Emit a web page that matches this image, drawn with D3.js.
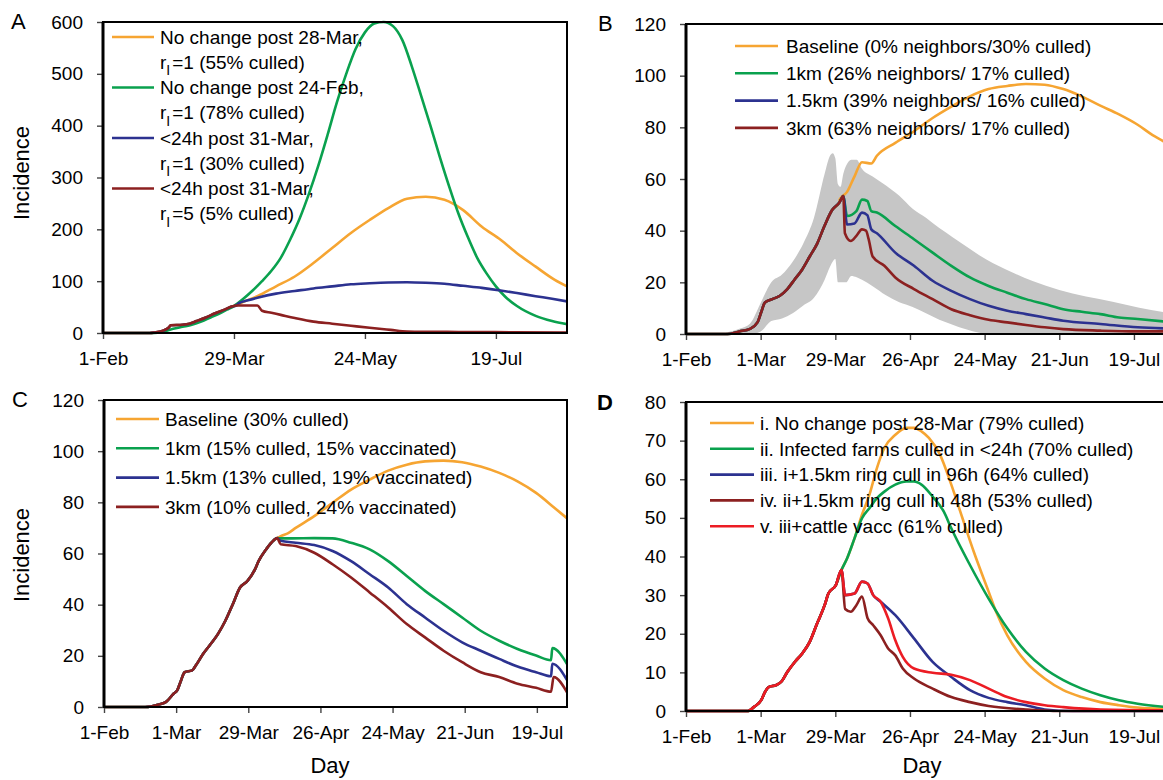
<!DOCTYPE html>
<html>
<head>
<meta charset="utf-8">
<script src="https://cdn.jsdelivr.net/npm/d3@7"></script>
<style>
  body { margin: 0; background: #fff; }
  svg { display: block; font-family: "Liberation Sans", Arial, sans-serif; }
</style>
</head>
<body>
<svg id="fig" width="1163" height="780"></svg>
<script>
// ---- DATA: day index counted from 1-Feb (= 0) ----

// tick labels
const ticksA = [[0, "1-Feb"], [56, "29-Mar"], [112, "24-May"], [168, "19-Jul"]]
const ticksBCD = [[0, "1-Feb"], [28, "1-Mar"], [56, "29-Mar"], [84, "26-Apr"],
                  [112, "24-May"], [140, "21-Jun"], [168, "19-Jul"]]

// panel A
const aEarly = [[0,0],[20,0],[22,1],[26,5],[28,10],[29,15],[34,16],[37,18],[40,23],[44,30],[48,38],[52,45],[55,51],[57,53]]
const aOrange = aEarly.concat([[60,60],[66,71],[74,90],[82,109],[90,135],[98,164],[106,193],[114,218],[122,241],[130,259],[138,263],[146,257],[154,237],[162,205],[170,180],[177,154],[185,128],[193,103],[198.4,90]])
const aGreen = [[0,0],[22,0],[26,3],[30,8],[34,12],[38,16],[42,22],[46,30],[50,38],[53,45],[56,52],[60,66],[64,82],[68,100],[72,120],[76,145],[80,180],[84,220],[88,268],[92,322],[96,382],[100,445],[104,500],[108,548],[112,580],[116,597],[120,600],[124,592],[128,565],[132,515],[136,458],[140,400],[144,340],[148,283],[152,230],[156,185],[160,145],[164,115],[168,90],[172,70],[177,52],[185,33],[192,23],[198.4,17]]
const aBlue = aEarly.concat([[58,57],[62,63],[66,68],[74,76],[82,81],[90,86],[98,90],[106,94],[114,96],[122,97.5],[130,98],[138,97],[146,95],[154,91],[162,87],[170,82],[177,77],[185,71],[192,66],[198.4,61]])
const aDred = aEarly.concat([[61,53],[66,53],[68,43],[72,39],[76,35],[82,29],[90,22],[98,18],[106,14],[114,10],[123,6],[130,3],[152,2],[175,1.5],[198.4,1]])

// panel B
const bEarly = [[0,0],[15.6,0],[20,1],[24,2],[26.8,4.5],[28.2,8.4],[29.6,12.2],[32.4,13.5],[35.2,14.8],[38,17.4],[40.8,21.2],[43.6,25],[46.4,30],[49.2,35],[52,42],[54.8,48],[57.6,51],[59,53.4]]
const bOrange = bEarly.slice(0, -1).concat([[57.6,52],[60.4,55],[63.2,61],[66,66.5],[69.5,66],[71.6,69],[78.5,74],[85.5,78.5],[92.5,83.6],[99.5,88],[106.5,92],[113.5,94.8],[120.5,96],[127.5,96.8],[134.5,96.5],[141.5,94.8],[148.4,92],[155.4,88.4],[162.4,85],[169.4,81],[175,77],[179,74.6],[182,72]])
const bGreen = bEarly.concat([[60.4,45.7],[63.9,47.6],[66,52],[68,51.5],[69.5,47.6],[71.6,47],[78.5,41.8],[85.5,36.7],[92.5,31.5],[99.5,26.4],[106.5,21.9],[113.5,18.6],[120.5,16],[127.5,13.5],[134.5,11.6],[141.5,9.6],[148.4,8.6],[155.4,7.7],[162.4,6.4],[169.4,5.8],[182,4.6]])
const bBlue = bEarly.concat([[60.4,42.4],[63.2,42.8],[66,47],[68,46],[69.5,40.5],[71.6,39],[78.5,31.5],[85.5,26.4],[92.5,20.6],[99.5,16.7],[106.5,13.5],[113.5,10.9],[120.5,9],[127.5,7.7],[134.5,6.4],[141.5,5.1],[155.4,3.9],[169.4,2.6],[182,2.1]])
const bDred = bEarly.concat([[59.6,39],[61.8,36],[63.9,38],[66,40.5],[67.5,40],[68.5,36.7],[70,30],[74.4,26.4],[78.5,21.9],[85.5,17.4],[92.5,13.5],[99.5,9.6],[106.5,7.3],[113.5,5.5],[120.5,4.5],[127.5,3.5],[134.5,2.6],[141.5,1.9],[155.4,1.3],[169,1],[182,1]])
// grey range of the simulations (panel B)
const bandDays = [15,20,24,28,32,36,40,44,48,52,54,55,56,57,58,59,60,62,64,66,70,75,80,85,90,95,100,105,110,115,120,130,140,150,160,170,182]
const bandHigh = [0.5,2,4,12,20,23,28,35,45,62,69,70,68,58,57,62,65,67.5,67.5,64,61,57.5,53.5,48.5,45,41,37.5,34,30.5,27.5,25,20.5,17,14.5,12.5,10.2,8]
const bandLow  = [0,0,0,1,5,6,8,11,14,21,26,28,29,20,20,20,20,22.5,22,21,18.5,15,12.3,10.5,8,5.5,3.6,1.8,0.5,0,0,0,0,0,0,0,0]

// panel C
const cEarly = [[0,0],[16,0],[21.3,1],[24.1,2],[27,5.2],[28.4,6.5],[29.9,10.4],[31.3,13.6],[34.2,14.3],[35.6,16.2],[38.5,20.8],[41.4,24.6],[44.2,28.5],[47.1,33.7],[50,40.2],[52.8,46.7],[55.7,49.3],[58.6,53.8],[60,57],[62.9,61.6],[65.8,65.1],[67.2,66]]
const cOrange = cEarly.concat([[68.6,66.8],[71.5,68],[74.4,70],[81.6,74.6],[88.7,79.8],[95.9,85],[103.1,88.9],[110.3,92.4],[117.5,94.7],[124.6,96],[131.8,96.3],[139,95.7],[146.2,94],[153.4,91.5],[160.5,88.2],[167.7,83.7],[174.9,77.8],[180,73.5]])
const cGreen = cEarly.concat([[68.5,65.9],[72.9,65.9],[81.6,66],[88.7,65.9],[95.9,64.2],[103.1,61.6],[110.3,57],[117.5,51.2],[124.6,45.4],[131.8,40.2],[139,35],[146.2,29.8],[153.4,25.9],[160.5,22.7],[167.7,20.1],[173.5,18.3],[174,23],[180,16.3]])
const cBlue = cEarly.concat([[68.5,65],[74.4,64.2],[81.6,63.3],[88.7,61],[95.9,57],[103.1,51.9],[110.3,46.7],[117.5,40.2],[124.6,35],[131.8,29.8],[139,25.3],[146.2,22],[153.4,18.8],[160.5,15.8],[167.7,13.6],[173.5,12],[174,16.9],[180,10]])
const cDred = cEarly.concat([[68.6,63.6],[74.4,62.9],[81.6,60.3],[88.7,55.8],[95.9,50.6],[103.1,44.8],[110.3,38.9],[117.5,32.4],[124.6,27.2],[131.8,22],[139,17.5],[146.2,13.6],[153.4,11.7],[160.5,9.1],[167.7,7.5],[173.5,6],[174.5,11.7],[180,5.2]])

// panel D
const dEarly = [[0,0],[23.3,0],[25.4,1],[28.2,2.8],[29.6,4.9],[31,6.2],[33.8,6.7],[35.9,7.7],[38,10.1],[40.8,12.7],[43.6,14.9],[46.4,17.9],[49.2,22.7],[52,27.4],[53.4,30.4],[56.2,32.6],[58.3,36.5]]
const dOrange = dEarly.concat([[60.4,39.5],[63.2,44.7],[66,50.8],[68.8,56],[71.6,62.9],[74.4,68.1],[78.5,71.5],[82.7,73.3],[85.5,73.3],[88.3,72.4],[91.1,70.7],[95.3,66.3],[99.5,58.6],[103.7,49.9],[107.9,41.3],[113.5,30.9],[116.3,25.7],[120.5,19.6],[127.5,12.7],[134.5,8.4],[141.5,5.4],[148.4,3.6],[155.4,2.3],[162.4,1.5],[169.4,0.9],[182,0.5]])
const dGreen = dEarly.concat([[60.4,39.5],[63.2,44.7],[66,49.9],[68.8,52.5],[71.6,55.1],[74.4,56.8],[78.5,58.6],[82.7,59.4],[85.5,59.4],[88.3,58.6],[92.5,55.5],[96.7,51.6],[99.5,47.3],[106.5,37.8],[113.5,29.1],[120.5,21.4],[127.5,15.3],[134.5,11],[141.5,8],[148.4,5.8],[155.4,4.1],[162.4,2.8],[169.4,1.9],[182,0.9]])
const dRedMid = [[59.7,30],[63.2,30.4],[66,33.5],[68.1,33],[70.2,30],[73,28.3]]
const dRed = dEarly.concat(dRedMid, [[75.8,24],[78.5,18.3],[81.3,14],[85.5,11],[92.5,9.9],[99.5,9.4],[106.5,8],[113.5,5.8],[120.5,3.6],[127.5,2.3],[134.5,1.5],[141.5,1],[155.4,0.4],[182,0.2]])
const dBlue = dEarly.concat(dRedMid, [[78.5,24.8],[85.5,18.8],[92.5,12.7],[99.5,8.8],[106.5,5.4],[113.5,3.4],[120.5,2.3],[127.5,1.5],[134.5,0.4],[145,0],[182,0]])
const dDred = dEarly.concat([[59.7,26.4],[61.8,25.7],[63.9,27.4],[66,29.6],[68.1,24],[70.2,22.2],[73,19.6],[75.8,16.2],[78.5,14.4],[81.3,11],[85.5,8.4],[92.5,5.8],[99.5,3.6],[106.5,2.3],[113.5,1.3],[127.5,0.4],[140,0],[182,0]])

// legend labels
const legendB = ["Baseline (0% neighbors/30% culled)", "1km (26% neighbors/ 17% culled)",
                 "1.5km (39% neighbors/ 16% culled)", "3km (63% neighbors/ 17% culled)"]
const legendC = ["Baseline (30% culled)", "1km (15% culled, 15% vaccinated)",
                 "1.5km (13% culled, 19% vaccinated)", "3km (10% culled, 24% vaccinated)"]
const legendD = ["i. No change post 28-Mar (79% culled)", "ii. Infected farms culled in <24h (70% culled)",
                 "iii. i+1.5km ring cull in 96h (64% culled)", "iv. ii+1.5km ring cull in 48h (53% culled)",
                 "v. iii+cattle vacc (61% culled)"]
const legendA = [["No change post 28-Mar,", "=1 (55% culled)"], ["No change post 24-Feb,", "=1 (78% culled)"],
                 ["<24h post 31-Mar,", "=1 (30% culled)"], ["<24h post 31-Mar,", "=5 (5% culled)"]]

// colours
const ORANGE = "#F6A532", GREEN = "#0AA14E", BLUE = "#2C3290", DRED = "#8C2020", RED = "#EC1C24"

const svg = d3.select("#fig")

// one panel = frame, axes, lines, legend
function panel(p) {
    const x = d3.scaleLinear().domain([0, p.xMax]).range([p.left, p.right])
    const y = d3.scaleLinear().domain([0, p.yMax]).range([p.bottom, p.top])
    const g = svg.append("g")

    g.append("clipPath").attr("id", "clip" + p.id)
        .append("rect")
        .attr("x", p.left).attr("y", p.top - 2)
        .attr("width", p.right - p.left).attr("height", p.bottom - p.top + 4)

    const plot = g.append("g").attr("clip-path", `url(#clip${p.id})`)

    if (p.band) {
        const area = d3.area()
            .x((d, i) => x(p.band.days[i]))
            .y0((d, i) => y(p.band.low[i]))
            .y1((d, i) => y(p.band.high[i]))
            .curve(d3.curveMonotoneX)
        plot.append("path")
            .datum(p.band.days)
            .attr("d", area)
            .attr("fill", "#c6c6c6")
    }

    const line = d3.line()
        .x(d => x(d[0]))
        .y(d => y(d[1]))
        .curve(d3.curveMonotoneX)
    p.series.forEach(s => {
        plot.append("path")
            .datum(s.data)
            .attr("d", line)
            .attr("fill", "none")
            .attr("stroke", s.color)
            .attr("stroke-width", 2.6)
            .attr("stroke-linejoin", "round")
    })

    // --- axes
    const yAxis = d3.axisLeft(y)
        .tickValues(d3.range(0, p.yMax + 0.001, p.yStep))
        .tickSize(6).tickPadding(14)
        .tickFormat(d3.format("d"))
    g.append("g")
        .attr("transform", `translate(${p.left},0)`)
        .call(yAxis)
        .call(a => a.select(".domain").remove())
        .call(a => a.selectAll("line").attr("stroke", "#444").attr("stroke-width", 1.4))
        .call(a => a.selectAll("text").attr("font-size", 19).attr("fill", "#000"))
        .attr("font-family", null)

    const xAxis = d3.axisBottom(x)
        .tickValues(p.ticks.map(t => t[0]))
        .tickFormat((d, i) => p.ticks[i][1])
        .tickSize(6).tickPadding(13)
    g.append("g")
        .attr("transform", `translate(0,${p.bottom})`)
        .call(xAxis)
        .call(a => a.select(".domain").remove())
        .call(a => a.selectAll("line").attr("stroke", "#444").attr("stroke-width", 1.4))
        .call(a => a.selectAll("text").attr("font-size", 19).attr("fill", "#000"))
        .attr("font-family", null)

    // --- frame
    g.append("rect")
        .attr("x", p.left).attr("y", p.top)
        .attr("width", p.right - p.left).attr("height", p.bottom - p.top)
        .attr("fill", "none").attr("stroke", "#000").attr("stroke-width", 2)
    g.append("line")
        .attr("x1", p.left).attr("x2", p.left)
        .attr("y1", p.top).attr("y2", p.bottom)
        .attr("stroke", "#000").attr("stroke-width", 3)

    // --- panel letter
    g.append("text")
        .attr("x", p.letterX).attr("y", p.letterY)
        .attr("font-size", 22)
        .attr("font-weight", p.letterBold ? "bold" : "normal")
        .text(p.letter)

    return { x, y, g }
}

// --- legend helper: one row per entry (panels B, C, D)
function legend(g, labels, colors, lx, tx, y0, step) {
    labels.forEach((lab, i) => {
        const yy = y0 + i * step
        g.append("line")
            .attr("x1", lx[0]).attr("x2", lx[1])
            .attr("y1", yy).attr("y2", yy)
            .attr("stroke", colors[i]).attr("stroke-width", 2.6)
        g.append("text")
            .attr("x", tx).attr("y", yy).attr("dy", "0.36em")
            .attr("font-size", 19)
            .text(lab)
    })
}

// ---------------- PANEL A
const A = panel({
    id: "A", left: 103, right: 567, top: 22, bottom: 333,
    xMax: 198.4, yMax: 600, yStep: 100, ticks: ticksA,
    letter: "A", letterX: 11, letterY: 29,
    series: [
        { data: aOrange, color: ORANGE },
        { data: aGreen, color: GREEN },
        { data: aBlue, color: BLUE },
        { data: aDred, color: DRED }
    ]
})
const colorsA = [ORANGE, GREEN, BLUE, DRED]
legendA.forEach((lab, i) => {
    const yy = 37 + i * 50.5
    A.g.append("line")
        .attr("x1", 112).attr("x2", 154)
        .attr("y1", yy).attr("y2", yy)
        .attr("stroke", colorsA[i]).attr("stroke-width", 2.6)
    A.g.append("text")
        .attr("x", 160).attr("y", yy).attr("dy", "0.36em")
        .attr("font-size", 19)
        .text(lab[0])
    const t2 = A.g.append("text")
        .attr("x", 160).attr("y", yy + 25).attr("dy", "0.36em")
        .attr("font-size", 19)
    t2.append("tspan").text("r")
    t2.append("tspan").attr("font-size", 14).attr("dy", "0.45em").text("I")
    t2.append("tspan").attr("dy", "-0.33em").attr("dx", 2).text(lab[1])
})
A.g.append("text")
    .attr("transform", "translate(29,173) rotate(-90)")
    .attr("text-anchor", "middle")
    .attr("font-size", 22)
    .text("Incidence")

// ---------------- PANEL B
const B = panel({
    id: "B", left: 686, right: 1171, top: 24, bottom: 334,
    xMax: 181.9, yMax: 120, yStep: 20, ticks: ticksBCD,
    letter: "B", letterX: 598, letterY: 31,
    band: { days: bandDays, low: bandLow, high: bandHigh },
    series: [
        { data: bOrange, color: ORANGE },
        { data: bGreen, color: GREEN },
        { data: bBlue, color: BLUE },
        { data: bDred, color: DRED }
    ]
})
legend(B.g, legendB, [ORANGE, GREEN, BLUE, DRED], [735, 778], 786, 46, 27.3)

// ---------------- PANEL C
const C = panel({
    id: "C", left: 104, right: 567, top: 400, bottom: 707,
    xMax: 179.7, yMax: 120, yStep: 20, ticks: ticksBCD,
    letter: "C", letterX: 12, letterY: 407,
    series: [
        { data: cOrange, color: ORANGE },
        { data: cGreen, color: GREEN },
        { data: cBlue, color: BLUE },
        { data: cDred, color: DRED }
    ]
})
legend(C.g, legendC, [ORANGE, GREEN, BLUE, DRED], [116, 159], 165, 419, 29.3)
C.g.append("text")
    .attr("transform", "translate(29,555) rotate(-90)")
    .attr("text-anchor", "middle")
    .attr("font-size", 22)
    .text("Incidence")
C.g.append("text")
    .attr("x", 330).attr("y", 773)
    .attr("text-anchor", "middle")
    .attr("font-size", 22)
    .text("Day")

// ---------------- PANEL D
const D = panel({
    id: "D", left: 686, right: 1171, top: 402, bottom: 711,
    xMax: 181.9, yMax: 80, yStep: 10, ticks: ticksBCD,
    letter: "D", letterX: 597, letterY: 410, letterBold: true,
    series: [
        { data: dOrange, color: ORANGE },
        { data: dGreen, color: GREEN },
        { data: dBlue, color: BLUE },
        { data: dDred, color: DRED },
        { data: dRed, color: RED }
    ]
})
legend(D.g, legendD, [ORANGE, GREEN, BLUE, DRED, RED], [710, 754], 760, 423, 25.8)
D.g.append("text")
    .attr("x", 922).attr("y", 773)
    .attr("text-anchor", "middle")
    .attr("font-size", 22)
    .text("Day")
</script>
</body>
</html>
